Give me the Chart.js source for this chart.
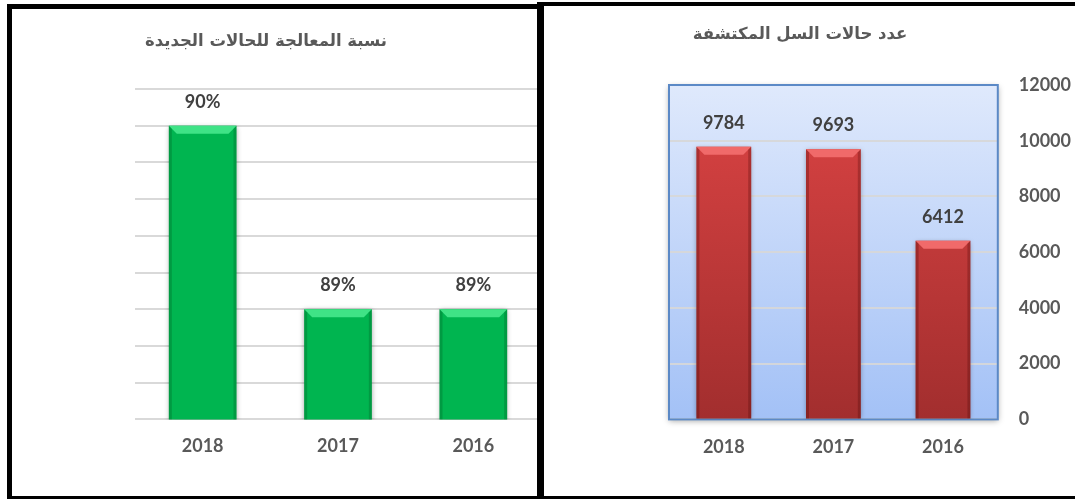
<!DOCTYPE html>
<html lang="ar">
<head>
<meta charset="utf-8">
<title>TB charts</title>
<script src="https://cdn.jsdelivr.net/npm/chart.js@4.4.1/dist/chart.umd.min.js"></script>
<style>
  html, body { margin: 0; padding: 0; background: #fff; }
  #page { position: relative; width: 1075px; height: 499px; overflow: hidden; background: #fff; }
  canvas { position: absolute; top: 0; }
  .rule { position: absolute; background: #000; z-index: 2; }
  .title {
    position: absolute; width: 400px; height: 22px; line-height: 22px;
    direction: rtl; text-align: center; white-space: nowrap;
    font: bold 16.5px 'DejaVu Sans', sans-serif; color: #595959;
  }
</style>
</head>
<body>
<div id="page">
  <canvas id="rateChart" width="541" height="499" style="left:0"></canvas>
  <canvas id="casesChart" width="553" height="499" style="left:544px"></canvas>

  <div class="title" style="left:66px; top:31px">نسبة المعالجة للحالات الجديدة</div>
  <div class="title" style="left:600px; top:24px">عدد حالات السل المكتشفة</div>

  <!-- frame lines -->
  <div class="rule" style="left:7px; top:4px; width:537px; height:5px"></div>
  <div class="rule" style="left:7px; top:4px; width:5px; height:495px"></div>
  <div class="rule" style="left:537px; top:2px; width:7px; height:497px"></div>
  <div class="rule" style="left:537px; top:2px; width:538px; height:4px"></div>
  <div class="rule" style="left:7px; top:496px; width:1068px; height:3px"></div>
</div>

<script>
  // data
  const years = ['2018', '2017', '2016'];
  const treatmentRates = [90, 89, 89];            // %
  const rateGridLines = [88.4, 88.6, 88.8, 89.0, 89.2, 89.4, 89.6, 89.8, 90.0, 90.2];
  const detectedCases = [9784, 9693, 6412];
  const caseTicks = [0, 2000, 4000, 6000, 8000, 10000, 12000];

  const fontFamily = "Lato, 'Liberation Sans', sans-serif";
  const axisFont = { family: fontFamily, size: 18, weight: 'bold' };
  const gray = '#595959';

  // numbers above the bars
  const valueLabels = {
    id: 'valueLabels',
    afterDatasetsDraw(chart, args, opts) {
      const ctx = chart.ctx;
      const values = chart.data.datasets[0].data;
      ctx.save();
      ctx.font = `bold ${opts.size}px ${fontFamily}`;
      ctx.fillStyle = opts.color;
      ctx.textAlign = 'center';
      ctx.textBaseline = 'middle';
      chart.getDatasetMeta(0).data.forEach((bar, i) => {
        ctx.fillText(values[i] + (opts.suffix || ''), bar.x, bar.y - opts.offset);
      });
      ctx.restore();
    }
  };

  // soft drop shadow behind the bars
  const barShadow = {
    id: 'barShadow',
    beforeDatasetDraw(chart) {
      const ctx = chart.ctx;
      ctx.save();
      ctx.shadowColor = 'rgba(0,0,0,0.35)';
      ctx.shadowBlur = 5;
      ctx.shadowOffsetY = 1;
    },
    afterDatasetDraw(chart) {
      chart.ctx.restore();
    }
  };

  // excel-like bevel on the bar tops and sides
  const bevel = {
    id: 'bevel',
    afterDatasetsDraw(chart, args, opts) {
      const ctx = chart.ctx;
      const bottom = chart.chartArea.bottom;
      chart.getDatasetMeta(0).data.forEach((bar) => {
        const l = bar.x - bar.width / 2;
        const r = bar.x + bar.width / 2;
        const t = bar.y;
        const b = Math.min(bar.base, bottom);
        const d = opts.depth;
        const s = opts.side;
        ctx.save();
        ctx.fillStyle = opts.light;
        ctx.beginPath();
        ctx.moveTo(l, t); ctx.lineTo(r, t); ctx.lineTo(r - d, t + d); ctx.lineTo(l + d, t + d);
        ctx.closePath();
        ctx.fill();
        ctx.fillStyle = opts.dark;
        ctx.beginPath();
        ctx.moveTo(l, t); ctx.lineTo(l + s, t + s); ctx.lineTo(l + s, b); ctx.lineTo(l, b);
        ctx.closePath();
        ctx.fill();
        ctx.beginPath();
        ctx.moveTo(r, t); ctx.lineTo(r - s, t + s); ctx.lineTo(r - s, b); ctx.lineTo(r, b);
        ctx.closePath();
        ctx.fill();
        ctx.restore();
      });
    }
  };

  // blue gradient plot area of the right chart
  const plotBackground = {
    id: 'plotBackground',
    beforeDraw(chart, args, opts) {
      const { ctx, chartArea: a } = chart;
      const g = ctx.createLinearGradient(0, a.top, 0, a.bottom);
      g.addColorStop(0, opts.top);
      g.addColorStop(1, opts.bottom);
      ctx.save();
      ctx.shadowColor = 'rgba(0,0,0,0.35)';
      ctx.shadowBlur = 6;
      ctx.shadowOffsetY = 2;
      ctx.fillStyle = g;
      ctx.fillRect(a.left, a.top, a.width, a.height);
      ctx.restore();
    },
    beforeDatasetsDraw(chart, args, opts) {
      const { ctx, chartArea: a } = chart;
      ctx.save();
      ctx.strokeStyle = opts.border;
      ctx.lineWidth = 2;
      ctx.strokeRect(a.left, a.top, a.width, a.height);
      ctx.restore();
    }
  };

  new Chart(document.getElementById('rateChart'), {
    type: 'bar',
    data: {
      labels: years,
      datasets: [{
        data: treatmentRates,
        backgroundColor: '#00b550',
        borderWidth: 0,
        categoryPercentage: 1,
        barPercentage: 0.5
      }]
    },
    options: {
      responsive: false,
      animation: false,
      layout: { padding: { left: 135, right: 0, top: 89, bottom: 26 } },
      plugins: {
        legend: { display: false },
        tooltip: { enabled: false },
        valueLabels: { size: 18, color: '#404040', offset: 24, suffix: '%' },
        bevel: { depth: 8, side: 3, light: '#3fe386', dark: 'rgba(0,60,20,0.22)' }
      },
      scales: {
        x: {
          offset: true,
          grid: { display: false, drawTicks: false },
          border: { display: false },
          ticks: { color: gray, font: axisFont, padding: 16 }
        },
        y: {
          min: rateGridLines[0],
          max: rateGridLines[rateGridLines.length - 1],
          afterBuildTicks: (scale) => { scale.ticks = rateGridLines.map((v) => ({ value: v })); },
          grid: { color: '#d9d9d9', lineWidth: 2, drawTicks: false },
          border: { display: false },
          ticks: { display: false }
        }
      }
    },
    plugins: [barShadow, bevel, valueLabels]
  });

  new Chart(document.getElementById('casesChart'), {
    type: 'bar',
    data: {
      labels: years,
      datasets: [{
        data: detectedCases,
        backgroundColor: (c) => {
          const a = c.chart.chartArea;
          if (!a) return '#c43a3a';
          const g = c.chart.ctx.createLinearGradient(0, a.top, 0, a.bottom);
          g.addColorStop(0, '#dc4444');
          g.addColorStop(1, '#a22e2e');
          return g;
        },
        borderWidth: 0,
        categoryPercentage: 1,
        barPercentage: 0.5
      }]
    },
    options: {
      responsive: false,
      animation: false,
      layout: { padding: { left: 125, right: 5, top: 85, bottom: 24 } },
      plugins: {
        legend: { display: false },
        tooltip: { enabled: false },
        plotBackground: { top: '#dfe9fc', bottom: '#a3c1f6', border: '#5b89c6' },
        valueLabels: { size: 18, color: '#404040', offset: 24 },
        bevel: { depth: 8, side: 3, light: '#f06a6a', dark: 'rgba(60,0,0,0.25)' }
      },
      scales: {
        x: {
          offset: true,
          grid: { display: false, drawTicks: false },
          border: { display: false },
          ticks: { color: gray, font: axisFont, padding: 17 }
        },
        y: {
          position: 'right',
          min: caseTicks[0],
          max: caseTicks[caseTicks.length - 1],
          afterBuildTicks: (scale) => { scale.ticks = caseTicks.map((v) => ({ value: v })); },
          grid: { color: 'rgba(215,215,215,0.9)', lineWidth: 2, drawTicks: false },
          border: { display: false },
          ticks: { color: gray, font: axisFont, padding: 21, crossAlign: 'near', callback: (v) => String(v) }
        }
      }
    },
    plugins: [plotBackground, barShadow, bevel, valueLabels]
  });
</script>
</body>
</html>
